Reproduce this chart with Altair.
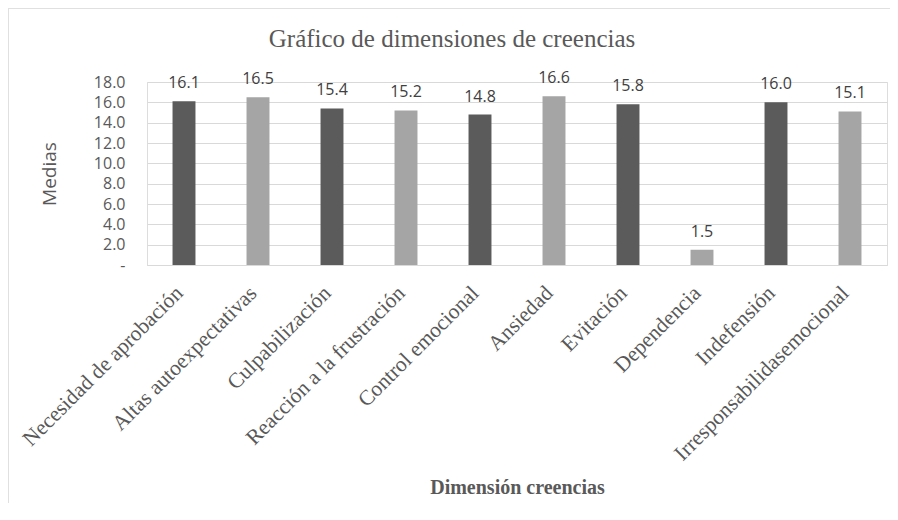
import altair as alt
import pandas as pd

categorias = [
    "Necesidad de aprobación",
    "Altas autoexpectativas",
    "Culpabilización",
    "Reacción a la frustración",
    "Control emocional",
    "Ansiedad",
    "Evitación",
    "Dependencia",
    "Indefensión",
    "Irresponsabilidasemocional",
]
medias = [16.1, 16.5, 15.4, 15.2, 14.8, 16.6, 15.8, 1.5, 16.0, 15.1]
tonos = ["a", "b", "a", "b", "a", "b", "a", "b", "a", "b"]
y_ticks = [0, 2, 4, 6, 8, 10, 12, 14, 16, 18]

df = pd.DataFrame({"cat": categorias, "media": medias, "tono": tonos})

SERIF = "Liberation Serif"
SANS = "Open Sans"
GRAY = "#595959"

x_axis = alt.Axis(
    title="Dimensión creencias",
    labelAngle=-45,
    labelAlign="right",
    labelBaseline="alphabetic",
    labelFont=SERIF,
    labelFontSize=21.5,
    labelColor=GRAY,
    labelPadding=29,
    labelLimit=400,
    labelOverlap=False,
    ticks=False,
    domainColor="#d9d9d9",
    titleFont=SERIF,
    titleFontSize=20,
    titleFontWeight="bold",
    titleColor=GRAY,
    titleBaseline="alphabetic",
    titleY=228,
    grid=False,
)

y_axis = alt.Axis(
    title="Medias",
    values=y_ticks,
    labelExpr="datum.value == 0 ? '-\u2007' : format(datum.value, '.1f')",
    labelFont=SANS,
    labelFontSize=16,
    labelColor=GRAY,
    labelPadding=22,
    labelOverlap=False,
    labelBound=False,
    ticks=False,
    domain=False,
    grid=True,
    gridColor="#d9d9d9",
    gridWidth=1,
    titleFont=SANS,
    titleFontSize=19,
    titleFontWeight="normal",
    titleColor=GRAY,
    titleBaseline="middle",
    titleX=-98,
)

x_scale = alt.Scale(paddingInner=0.69, paddingOuter=0.345)
y_scale = alt.Scale(domain=[0, 18], nice=False)

bars = alt.Chart(df).mark_bar().encode(
    x=alt.X("cat:N", sort=categorias, scale=x_scale, axis=x_axis),
    y=alt.Y("media:Q", scale=y_scale, axis=y_axis),
    color=alt.Color(
        "tono:N",
        scale=alt.Scale(domain=["a", "b"], range=["#5b5b5b", "#a5a5a5"]),
        legend=None,
    ),
)

labels = alt.Chart(df).mark_text(
    font=SANS, fontSize=16, color="#404040", baseline="alphabetic", dy=-13
).encode(
    x=alt.X("cat:N", sort=categorias, scale=x_scale, axis=x_axis),
    y=alt.Y("media:Q", scale=y_scale, axis=y_axis),
    text=alt.Text("media:Q", format=".1f"),
)

frame_top = alt.Chart(df).mark_rule(color="#e0e0e0", strokeWidth=1).encode(
    x=alt.value(-139), x2=alt.value(751), y=alt.value(-74)
)
frame_left = alt.Chart(df).mark_rule(color="#e0e0e0", strokeWidth=1).encode(
    x=alt.value(-139), y=alt.value(-74), y2=alt.value(421)
)

chart = (
    alt.layer(frame_top, frame_left, bars, labels)
    .properties(
        width=740,
        height=183,
        padding={"left": 139, "top": 74, "right": 3, "bottom": 240},
        autosize=alt.AutoSizeParams(type="none"),
        title=alt.TitleParams(
            "Gráfico de dimensiones de creencias",
            font=SERIF,
            fontSize=25,
            fontWeight="normal",
            color=GRAY,
            anchor="middle",
            baseline="alphabetic",
            dx=-65,
            offset=-64,
        ),
    )
    .configure_view(stroke=None)
    .configure_axis(labelOverlap=False)
    .configure(background="white")
)

chart.save("out.html", embed_options={"renderer": "svg", "actions": False})
